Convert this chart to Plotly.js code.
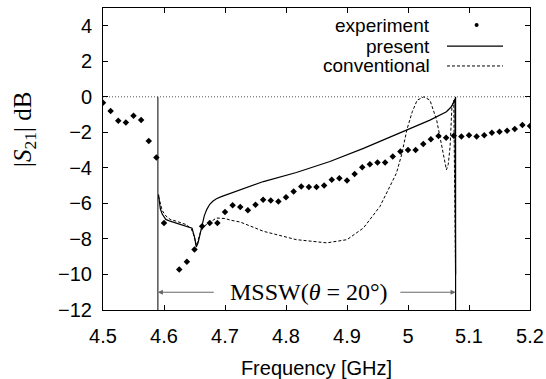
<!DOCTYPE html>
<html>
<head>
<meta charset="utf-8">
<script src="https://cdn.plot.ly/plotly-3.0.1.min.js"></script>
<style>html,body{margin:0;padding:0;background:#fff;}#chart{width:546px;height:379px;}</style>
</head>
<body>
<div id="chart"></div>
<script>
// Experimental points (frequency GHz, |S21| dB)
const expFreq = [4.5000,4.5125,4.5250,4.5375,4.5500,4.5625,4.5750,4.5875,4.6000,4.6250,4.6375,4.6500,4.6625,4.6750,4.6875,4.7000,4.7125,4.7250,4.7375,4.7500,4.7625,4.7750,4.7875,4.8000,4.8125,4.8250,4.8375,4.8500,4.8625,4.8750,4.8875,4.9000,4.9125,4.9250,4.9375,4.9500,4.9625,4.9750,4.9875,5.0000,5.0125,5.0250,5.0375,5.0500,5.0625,5.0750,5.0875,5.1000,5.1125,5.1250,5.1375,5.1500,5.1625,5.1750,5.1875,5.2000];
const expDb = [-0.34,-0.80,-1.35,-1.44,-1.06,-1.31,-2.48,-3.42,-7.10,-9.72,-9.29,-8.60,-7.29,-7.10,-7.10,-6.49,-6.11,-6.20,-6.39,-6.07,-5.79,-5.83,-5.89,-5.66,-5.33,-5.05,-5.08,-5.08,-4.99,-4.67,-4.58,-4.71,-4.35,-3.96,-3.79,-3.70,-3.70,-3.36,-3.08,-2.99,-2.99,-2.65,-2.39,-2.20,-2.30,-2.19,-2.24,-2.17,-2.24,-2.17,-2.02,-1.96,-1.91,-1.81,-1.59,-1.64];

// Present theory (solid)
const presFreq = [4.591,4.594,4.597,4.603,4.610,4.620,4.630,4.640,4.646,4.650,4.653,4.656,4.659,4.662,4.666,4.670,4.675,4.680,4.686,4.694,4.702,4.725,4.763,4.817,4.872,4.927,4.981,5.036,5.063,5.071,5.075,5.077,5.078];
const presDb = [-5.5,-6.3,-6.6,-6.9,-7.0,-7.1,-7.2,-7.3,-7.4,-7.9,-8.45,-8.2,-7.7,-7.2,-6.7,-6.35,-6.05,-5.88,-5.74,-5.62,-5.52,-5.23,-4.77,-4.26,-3.64,-2.90,-2.11,-1.31,-0.84,-0.56,-0.3,-0.1,-10];

// Conventional theory (dashed)
const convFreq = [4.591,4.594,4.597,4.603,4.610,4.620,4.630,4.637,4.645,4.650,4.653,4.656,4.660,4.665,4.675,4.686,4.700,4.710,4.725,4.763,4.817,4.867,4.900,4.927,4.954,4.981,4.990,4.998,5.007,5.015,5.026,5.036,5.047,5.058,5.063,5.066,5.069,5.072,5.075,5.078];
const convDb = [-5.6,-6.1,-6.4,-6.7,-6.9,-7.0,-7.1,-7.2,-7.45,-7.9,-8.4,-8.1,-7.6,-7.3,-7.05,-6.82,-6.85,-6.95,-7.05,-7.57,-8.04,-8.22,-8.04,-7.38,-6.17,-4.30,-3.2,-1.87,-0.84,-0.19,0.0,-0.19,-1.31,-3.18,-4.11,-3.8,-2.80,-0.56,-0.2,-10];

const xTicks = [4.5,4.6,4.7,4.8,4.9,5.0,5.1,5.2];
const xTickText = ['4.5','4.6','4.7','4.8','4.9','5','5.1','5.2'];
const yTicks = [-12,-10,-8,-6,-4,-2,0,2,4];
const bandEdges = [4.59, 5.078];
const legendNames = ['experiment','present','conventional'];
const bandLabel = 'MSSW(<i>θ</i> = 20°)';

const sans = 'Liberation Sans, Arial, sans-serif';
const serif = 'Liberation Serif, Times New Roman, serif';

const traces = [
  {x: expFreq, y: expDb, mode: 'markers', type: 'scatter',
   marker: {symbol: 'diamond', size: 5, color: '#000'}, showlegend: false},
  {x: presFreq, y: presDb, mode: 'lines', type: 'scatter',
   line: {color: '#000', width: 1.2}, showlegend: false},
  {x: convFreq, y: convDb, mode: 'lines', type: 'scatter',
   line: {color: '#000', width: 1, dash: '3px,2px'}, showlegend: false}
];

const lgX = 0.7705, lgRows = [0.9437, 0.874, 0.808];
const shapes = [
  {type: 'line', xref: 'paper', yref: 'y', x0: 0, x1: 1, y0: 0, y1: 0,
   line: {color: '#555', width: 1, dash: '1px,2px'}, layer: 'below'},
  {type: 'line', xref: 'x', yref: 'y', x0: bandEdges[0], x1: bandEdges[0], y0: 0, y1: -12,
   line: {color: '#000', width: 1}},
  {type: 'line', xref: 'x', yref: 'y', x0: bandEdges[1], x1: bandEdges[1], y0: 0, y1: -12,
   line: {color: '#000', width: 1.2}},
  // legend samples
  {type: 'circle', xref: 'paper', yref: 'paper', xsizemode: 'pixel', ysizemode: 'pixel',
   xanchor: 0.875, yanchor: lgRows[0], x0: -2, x1: 2, y0: -2, y1: 2,
   fillcolor: '#000', line: {color: '#000', width: 0}},
  {type: 'line', xref: 'paper', yref: 'paper', x0: 0.8056, x1: 0.9368, y0: lgRows[1], y1: lgRows[1],
   line: {color: '#000', width: 1.2}},
  {type: 'line', xref: 'paper', yref: 'paper', x0: 0.8056, x1: 0.9368, y0: lgRows[2], y1: lgRows[2],
   line: {color: '#000', width: 1, dash: '3px,2px'}}
];

const annotations = [
  {xref: 'paper', yref: 'paper', x: -0.185, y: 0.596, text: '|<i>S</i><sub>21</sub>| dB',
   textangle: -90, showarrow: false, xanchor: 'center', yanchor: 'middle',
   font: {family: serif, size: 25, color: '#000'}},
  {xref: 'x', yref: 'y', x: 4.837, y: -11, text: bandLabel, showarrow: false,
   xanchor: 'center', yanchor: 'middle', font: {family: serif, size: 24, color: '#000'}},
  {xref: 'x', yref: 'y', axref: 'x', ayref: 'y', x: bandEdges[0], y: -11, ax: 4.684, ay: -11,
   text: '', showarrow: true, arrowhead: 2, arrowsize: 1, arrowwidth: 1, arrowcolor: '#666', standoff: 0},
  {xref: 'x', yref: 'y', axref: 'x', ayref: 'y', x: bandEdges[1], y: -11, ax: 4.985, ay: -11,
   text: '', showarrow: true, arrowhead: 2, arrowsize: 1, arrowwidth: 1, arrowcolor: '#666', standoff: 0}
];
legendNames.forEach((n, i) => annotations.push({
  xref: 'paper', yref: 'paper', x: lgX, y: lgRows[i], text: n, showarrow: false,
  xanchor: 'right', yanchor: 'middle', font: {family: sans, size: 19, color: '#000'}
}));

const layout = {
  width: 546, height: 379,
  margin: {l: 103, r: 16, t: 8, b: 69},
  paper_bgcolor: '#fff', plot_bgcolor: '#fff',
  showlegend: false,
  font: {family: sans, size: 20, color: '#000'},
  xaxis: {range: [4.5, 5.2], tickvals: xTicks, ticktext: xTickText, ticks: 'inside', ticklen: 5,
    tickcolor: '#000', showline: true, linecolor: '#000', linewidth: 1, mirror: 'allticks',
    showgrid: false, zeroline: false, tickfont: {family: sans, size: 20}, ticklabelstandoff: 8,
    title: {text: 'Frequency [GHz]', font: {family: sans, size: 20}, standoff: 14}},
  yaxis: {range: [-12, 5], tickvals: yTicks, ticks: 'inside', ticklen: 5, tickcolor: '#000',
    showline: true, linecolor: '#000', linewidth: 1, mirror: 'allticks', showgrid: false,
    zeroline: false, tickfont: {family: sans, size: 20}, ticklabelstandoff: 6},
  shapes: shapes,
  annotations: annotations
};

Plotly.newPlot('chart', traces, layout, {staticPlot: true, displayModeBar: false});
</script>
</body>
</html>
